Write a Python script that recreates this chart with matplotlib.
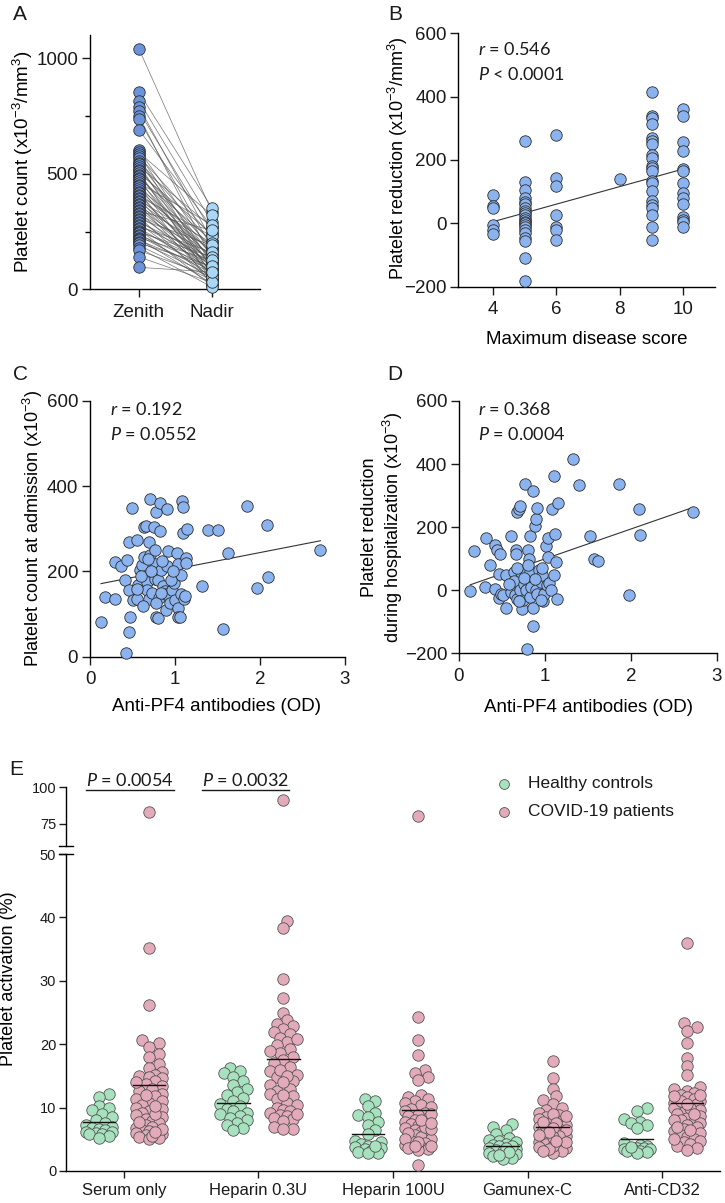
import matplotlib
matplotlib.use("Agg")
import matplotlib.pyplot as plt
import numpy as np
from matplotlib.lines import Line2D

plt.rcParams['font.family'] = ['Liberation Sans', 'DejaVu Sans']
plt.rcParams['mathtext.default'] = 'regular'
plt.rcParams['mathtext.fontset'] = 'custom'
plt.rcParams['mathtext.it'] = 'Lato:italic'
plt.rcParams['mathtext.rm'] = 'Lato'
plt.rcParams['text.color'] = '#1a1a1a'

# ---------------- data ----------------
# A: zenith / nadir platelet counts (paired)
zenith = [1040, 852, 816, 790, 771, 750, 735, 690, 601, 592, 585, 575, 566, 556, 548, 540,
          532, 525, 517, 510, 503, 496, 489, 482, 475, 468, 460, 452, 445, 438, 430, 423,
          416, 410, 403, 397, 390, 384, 378, 371, 365, 358, 352, 345, 338, 332, 325, 318,
          312, 305, 298, 291, 285, 278, 272, 266, 260, 254, 248, 242, 236, 230, 224, 218,
          212, 206, 200, 190, 180, 168, 140, 95]
nadir = [336, 353, 290, 210, 250, 130, 180, 270, 160, 320, 110, 230, 90, 200, 145, 60,
         270, 120, 180, 35, 240, 95, 150, 210, 70, 130, 280, 105, 55, 185, 140, 20,
         165, 90, 230, 115, 60, 200, 145, 80, 40, 175, 125, 100, 255, 65, 150, 110,
         30, 190, 85, 135, 50, 120, 160, 75, 15, 110, 140, 45, 95, 70, 125, 25,
         85, 60, 100, 40, 10, 55, 30, 75]

# B: disease score vs platelet reduction
b_score = [4] * 6 + [5] * 22 + [6] * 7 + [8] + [9] * 21 + [10] * 14
b_reduction = [90, 55, 50, -5, -20, -33,
               259, 129, 105, 80, 68, 60, 50, 40, 32, 25, 18, 10, 5, 0, -5, -12, -20, -30, -45, -57, -110, -183,
               278, 143, 117, 26, -12, -20, -52,
               140,
               416, 340, 333, 315, 268, 260, 250, 215, 207, 182, 175, 165, 135, 128, 102, 70, 57, 50, 25, -12, -52,
               362, 338, 257, 228, 172, 165, 127, 95, 80, 62, 20, 12, 5, -12]

# C: anti-PF4 OD vs platelet count at admission
c_od = [0.13, 0.18, 0.30, 0.30, 0.36, 0.41, 0.42, 0.46, 0.47, 0.46,
        0.46, 0.44, 0.49, 0.51, 0.55, 0.55, 0.57, 0.59, 0.61, 0.63,
        0.64, 0.66, 0.67, 0.67, 0.69, 0.70, 0.71, 0.71, 0.73, 0.75,
        0.76, 0.76, 0.77, 0.78, 0.78, 0.80, 0.80, 0.81, 0.82, 0.82,
        0.84, 0.86, 0.88, 0.89, 0.90, 0.91, 0.91, 0.92, 0.94, 0.97,
        0.99, 1.00, 1.01, 1.02, 1.03, 1.03, 1.04, 1.06, 1.07, 1.07,
        1.08, 1.10, 1.10, 1.11, 1.12, 1.13, 1.13, 1.14, 1.32, 1.39,
        1.51, 1.57, 1.62, 1.85, 1.97, 2.08, 2.10, 2.71, 0.60, 0.72,
        0.85, 0.95, 0.68, 0.62, 0.78, 0.98, 0.55, 0.83]
c_count = [82, 139, 135, 223, 212, 179, 8, 59, 93, 157,
           269, 227, 349, 133, 135, 274, 169, 204, 216, 235,
           304, 306, 176, 157, 135, 270, 370, 238, 149, 304,
           251, 182, 218, 94, 339, 90, 179, 137, 361, 294,
           204, 165, 155, 110, 147, 212, 346, 247, 125, 157,
           172, 133, 200, 243, 114, 218, 94, 93, 192, 147,
           365, 351, 290, 135, 143, 231, 220, 300, 166, 298,
           298, 64, 243, 353, 161, 310, 187, 251, 190, 200,
           225, 180, 230, 120, 125, 200, 160, 150]

# D: anti-PF4 OD vs platelet reduction during hospitalization
d_od = [0.13, 0.18, 0.30, 0.31, 0.36, 0.42, 0.44, 0.48, 0.42, 0.46,
        0.49, 0.47, 0.51, 0.55, 0.55, 0.60, 0.61, 0.64, 0.64, 0.65,
        0.66, 0.66, 0.67, 0.68, 0.70, 0.71, 0.71, 0.72, 0.73, 0.74,
        0.76, 0.77, 0.78, 0.79, 0.80, 0.81, 0.82, 0.82, 0.82, 0.84,
        0.86, 0.86, 0.86, 0.88, 0.90, 0.90, 0.91, 0.91, 0.93, 0.95,
        0.96, 0.98, 0.99, 1.01, 1.02, 1.03, 1.04, 1.05, 1.07, 1.08,
        1.10, 1.11, 1.12, 1.13, 1.14, 1.15, 1.33, 1.40, 1.52, 1.57,
        1.62, 1.86, 1.98, 2.09, 2.11, 2.72, 0.68, 0.75, 0.88, 0.95,
        0.58, 0.70, 0.80, 0.97]
d_reduction = [-3, 124, 11, 165, 79, 142, 128, 114, 5, -26,
               -11, 53, -16, 49, -55, 172, -5, 58, 29, -16,
               128, 114, 247, -28, 256, 266, 0, 58, -58, -32,
               21, 337, 0, -186, 126, 100, 58, -21, 172, 11,
               -114, -55, 314, 205, 0, 226, 261, -13, 63, 26,
               47, -34, -11, 139, 16, 105, 165, 23, 0, 258,
               47, 361, 179, 89, -28, 277, 416, 335, 172, 98,
               92, 337, -14, 256, 174, 247, 70, 40, 35, -30,
               20, -35, 80, 70]

# E: platelet activation (%)
conditions = ['Serum only', 'Heparin 0.3U', 'Heparin 100U', 'Gamunex-C', 'Anti-CD32']
hc_serum = [12.1, 11.6, 10.3, 10.0, 9.6, 9.0, 8.5, 8.0, 7.6, 7.3, 7.0, 6.8, 6.6, 6.4, 6.2, 6.1,
            6.0, 5.9, 5.8, 5.5, 5.2]
hc_hep03 = [16.3, 15.8, 15.4, 14.9, 14.2, 13.6, 13.0, 12.4, 12.0, 11.5, 11.0, 10.6, 10.2, 9.8,
            9.4, 9.2, 9.0, 8.7, 8.4, 8.0, 7.6, 7.2, 6.8, 6.5]
hc_hep100 = [11.4, 11.0, 10.3, 9.2, 8.8, 8.5, 7.8, 7.2, 6.5, 5.8, 4.8, 4.5, 4.2, 4.0, 3.8, 3.6,
             3.4, 3.2, 3.0, 2.9, 2.8, 3.9]
hc_gam = [7.4, 6.9, 6.4, 5.8, 5.2, 4.9, 4.7, 4.5, 4.3, 4.1, 3.9, 3.7, 3.5, 3.3, 3.1, 2.9, 2.7,
          2.5, 2.3, 2.1, 1.9, 4.0, 3.6, 3.0, 2.6]
hc_cd32 = [10.0, 9.4, 8.2, 7.8, 7.5, 7.2, 6.8, 4.4, 4.1, 3.9, 3.7, 3.6, 3.5, 3.4, 3.3, 3.2, 3.1,
           3.0, 2.9, 3.8]
cov_serum = [83.0, 35.2, 26.2, 20.6, 20.2, 19.6, 18.4, 18.0, 16.8, 16.2, 15.6, 15.2, 15.0, 14.8,
             14.6, 14.2, 13.8, 13.4, 13.0, 12.6, 12.2, 11.8, 11.4, 11.0, 10.8, 10.4, 10.0, 9.8,
             9.5, 9.2, 8.8, 8.5, 8.2, 7.9, 7.6, 7.3, 7.0, 6.8, 6.5, 6.3, 6.0, 5.8, 5.6, 5.4, 5.2,
             5.0, 6.6, 7.8, 9.0, 10.2, 12.0, 14.0, 5.5, 6.2]
cov_hep03 = [91.0, 39.4, 38.3, 30.3, 27.3, 25.0, 23.8, 23.2, 22.8, 22.4, 22.0, 21.6, 21.0, 20.3,
             19.8, 19.2, 18.6, 18.0, 17.5, 17.0, 16.4, 15.8, 15.2, 14.8, 14.2, 13.6, 13.0, 12.6,
             12.2, 11.8, 11.3, 10.8, 10.4, 10.0, 9.7, 9.4, 9.1, 8.8, 8.6, 8.4, 8.2, 7.9, 6.9, 6.7,
             6.6, 20.8, 16.0, 12.0, 9.0, 15.0, 19.0, 14.0]
cov_hep100 = [80.0, 24.3, 20.7, 18.3, 16.0, 15.4, 14.8, 14.3, 12.0, 11.7, 11.4, 11.0, 10.7, 10.4,
              10.1, 9.8, 9.5, 9.2, 8.9, 8.6, 8.3, 8.0, 7.7, 7.4, 7.1, 6.8, 6.5, 6.2, 5.9, 5.6,
              5.3, 5.0, 4.7, 4.4, 4.1, 3.8, 3.5, 3.3, 1.0, 9.0, 7.0, 6.0, 5.0, 8.0, 3.6, 4.5, 6.6,
              7.5, 3.9, 4.0]
cov_gam = [17.4, 14.7, 12.9, 11.8, 11.2, 10.6, 10.0, 9.6, 9.2, 8.8, 8.5, 8.2, 7.9, 7.6, 7.3, 7.0,
           6.7, 6.4, 6.1, 5.8, 5.5, 5.2, 4.9, 4.6, 4.3, 4.0, 3.7, 3.4, 3.1, 2.9, 8.0, 7.0, 6.0,
           5.0, 4.0, 9.0, 6.5, 5.5, 4.5, 3.5, 7.5, 8.6, 6.8, 5.3, 3.8, 4.8, 6.2, 7.8, 3.2, 5.7]
cov_cd32 = [35.9, 23.3, 22.7, 22.1, 20.2, 17.9, 16.6, 15.2, 13.3, 12.9, 12.6, 12.3, 12.0, 11.7,
            11.4, 11.1, 10.8, 10.5, 10.2, 9.9, 9.6, 9.3, 9.0, 8.7, 8.4, 8.1, 7.8, 7.5, 7.2, 6.9,
            6.6, 6.3, 6.0, 5.7, 5.4, 5.1, 4.8, 4.5, 4.2, 3.9, 3.6, 3.3, 11.0, 10.0, 9.0, 12.0,
            8.0, 7.0, 6.5, 10.6, 11.8, 5.0]
hc_groups = [hc_serum, hc_hep03, hc_hep100, hc_gam, hc_cd32]
cov_groups = [cov_serum, cov_hep03, cov_hep100, cov_gam, cov_cd32]
hc_means = [7.8, 10.8, 5.9, 3.9, 5.1]
cov_means = [13.6, 17.7, 9.7, 7.0, 10.7]
p_labels = ['0.0054', '0.0032']

# ---------------- style ----------------
W, H = 725, 1203
fig = plt.figure(figsize=(W / 100, H / 100), dpi=100)

BLUE = '#8AB3EF'
ZEN = '#6A93DC'
NAD = '#A9D7F7'
GREEN = '#A6E2BD'
PINK = '#E3AABA'
EDGE = '#2e2e2e'
MS = 68


def add_ax(box):
    l, t, r, b = box
    return fig.add_axes([l / W, 1 - b / H, (r - l) / W, (b - t) / H])


def style(ax, size=13.5, length=6):
    for s in ['top', 'right']:
        ax.spines[s].set_visible(False)
    for s in ['left', 'bottom']:
        ax.spines[s].set_linewidth(1.0)
    ax.tick_params(width=1.0, length=length, labelsize=size, colors='#1a1a1a')
    ax.tick_params(axis='y', pad=2.5)
    ax.tick_params(axis='x', pad=4.5)


def ylab(ax, box, txt, x_px, y_px, size=13):
    l, t, r, b = box
    ax.set_ylabel(txt, fontsize=size, va='center', ha='center')
    ax.yaxis.set_label_coords((x_px - l) / (r - l), (b - y_px) / (b - t))


def xlab(ax, box, txt, x_px, y_px, size=13.5):
    l, t, r, b = box
    ax.set_xlabel(txt, fontsize=size, va='center', ha='center')
    ax.xaxis.set_label_coords((x_px - l) / (r - l), (b - y_px) / (b - t))


def stats(x_px, y_px, r_txt, p_txt):
    fig.text(x_px / W, 1 - y_px / H, r'$\mathit{r}$ = ' + r_txt, fontsize=13,
             family='Lato', va='baseline', ha='left')
    fig.text(x_px / W, 1 - (y_px + 25) / H, r'$\mathit{P}$ ' + p_txt, fontsize=13,
             family='Lato', va='baseline', ha='left')


def letter(txt, x_px, y_px):
    fig.text(x_px / W, 1 - y_px / H, txt, fontsize=15, va='baseline', ha='left')


def fit_line(ax, x, y):
    x = np.asarray(x, float)
    y = np.asarray(y, float)
    k, c = np.polyfit(x, y, 1)
    xs = np.array([x.min(), x.max()])
    ax.plot(xs, k * xs + c, color='#333333', lw=0.8, zorder=2)


# ---------------- A ----------------
boxA = (90, 35, 260, 289.3)
axA = add_ax(boxA)
style(axA)
zen = np.array(zenith)
nad = np.array(nadir)
axA.plot(np.vstack([np.zeros(len(zen)), np.ones(len(nad))]), np.vstack([zen, nad]),
         color='#555555', lw=0.55, alpha=0.75, zorder=1)
axA.scatter(np.zeros(len(zen)), zen, s=MS, c=ZEN, edgecolors=EDGE, linewidths=0.6, zorder=3, clip_on=False)
axA.scatter(np.ones(len(nad)), nad, s=MS, c=NAD, edgecolors=EDGE, linewidths=0.6, zorder=3, clip_on=False)
axA.set_xlim(-0.67, 1.66)
axA.set_ylim(0, 1100)
axA.set_yticks([0, 500, 1000])
axA.set_yticks([250, 750], minor=True)
axA.tick_params(axis='y', which='minor', length=3.5, width=1.0)
axA.set_xticks([0, 1])
axA.set_xticklabels(['Zenith', 'Nadir'])
ylab(axA, boxA, r'Platelet count (x10$^{-3}$/mm$^{3}$)', 23, 162, size=13.5)
letter('A', 13, 20)

# ---------------- B ----------------
boxB = (458, 33.3, 715, 286.7)
axB = add_ax(boxB)
style(axB, length=5.5)
axB.scatter(b_score, b_reduction, s=MS, c=BLUE, edgecolors=EDGE, linewidths=0.6, zorder=3, clip_on=False)
fit_line(axB, b_score, b_reduction)
axB.set_xlim(2.9, 11.0)
axB.set_ylim(-200, 600)
axB.set_xticks([4, 6, 8, 10])
axB.set_yticks([-200, 0, 200, 400, 600])
ylab(axB, boxB, r'Platelet reduction (x10$^{-3}$/mm$^{3}$)', 398, 158)
xlab(axB, boxB, 'Maximum disease score', 587, 340)
stats(478, 55, '0.546', '< 0.0001')
letter('B', 388, 20)

# ---------------- C ----------------
boxC = (90, 401, 345, 656.7)
axC = add_ax(boxC)
style(axC)
axC.scatter(c_od, c_count, s=MS, c=BLUE, edgecolors=EDGE, linewidths=0.6, zorder=3, clip_on=False)
fit_line(axC, c_od, c_count)
axC.set_xlim(0, 3)
axC.set_ylim(0, 600)
axC.set_xticks([0, 1, 2, 3])
axC.set_yticks([0, 200, 400, 600])
ylab(axC, boxC, r'Platelet count at admission (x10$^{-3}$)', 33, 528)
xlab(axC, boxC, 'Anti-PF4 antibodies (OD)', 217, 707)
stats(110, 415, '0.192', '= 0.0552')
letter('C', 13, 380)

# ---------------- D ----------------
boxD = (459, 401, 717, 653.3)
axD = add_ax(boxD)
style(axD)
axD.scatter(d_od, d_reduction, s=MS, c=BLUE, edgecolors=EDGE, linewidths=0.6, zorder=3, clip_on=False)
fit_line(axD, d_od, d_reduction)
axD.set_xlim(0, 3)
axD.set_ylim(-200, 600)
axD.set_xticks([0, 1, 2, 3])
axD.set_yticks([-200, 0, 200, 400, 600])
ylab(axD, boxD, 'Platelet reduction\n' + r'during hospitalization (x10$^{-3}$)', 383, 527)
xlab(axD, boxD, 'Anti-PF4 antibodies (OD)', 589, 707)
stats(478, 415, '0.368', '= 0.0004')
letter('D', 387, 380)

# ---------------- E ----------------
boxEu = (66, 787, 720, 846)
boxEl = (66, 854, 720, 1171)
axU = add_ax(boxEu)
axL = add_ax(boxEl)
style(axL, size=12, length=5)
style(axU, size=12, length=5)
axL.tick_params(axis='y', labelsize=10.5, pad=2)
axU.tick_params(axis='y', labelsize=10.5, pad=2)
axU.spines['bottom'].set_visible(False)
axU.set_xticks([])
for ax in (axU, axL):
    ax.set_xlim(-0.43, 4.43)
axL.set_ylim(0, 50)
axU.set_ylim(59.8, 100)
axL.set_yticks([0, 10, 20, 30, 40, 50])
axU.set_yticks([75, 100])
axL.set_xticks(range(len(conditions)))
axL.set_xticklabels(conditions)
axL.tick_params(axis='x', pad=3.5)

# break marks on the y axis
axU.plot([-0.01, 0.01], [0, 0], transform=axU.transAxes, color='black', lw=1.0, clip_on=False)
axL.plot([-0.01, 0.01], [1, 1], transform=axL.transAxes, color='black', lw=1.0, clip_on=False)

ppu_x = (boxEl[2] - boxEl[0]) / 4.86
ppu_y = (boxEl[3] - boxEl[1]) / 50.0


def swarm(vals, diam=11.0, max_off=14.0):
    y = np.asarray(vals, float) * ppu_y
    order = np.argsort(y)
    px, py = [], []
    out = np.zeros(len(y))
    step = diam * 0.3
    cands = [0.0]
    k = 1
    while k * step <= max_off:
        cands += [k * step, -k * step]
        k += 1
    for i in order:
        best, best_d = 0.0, -1.0
        if px:
            ax_ = np.array(px)
            ay_ = np.array(py)
            for c in cands:
                dmin = np.min(np.hypot(ax_ - c, ay_ - y[i]))
                if dmin >= diam * 0.7:
                    best = c
                    break
                if dmin > best_d:
                    best_d, best = dmin, c
        out[i] = best
        px.append(best)
        py.append(y[i])
    return out / ppu_x


off = 0.186
half = 0.12
for i in range(len(conditions)):
    for vals, shift, col, m in ((hc_groups[i], -off, GREEN, hc_means[i]),
                                (cov_groups[i], off, PINK, cov_means[i])):
        v = np.array(vals, float)
        low = v[v <= 50]
        high = v[v > 50]
        xs = i + shift + swarm(low)
        axL.scatter(xs, low, s=MS, c=col, edgecolors='#555555', linewidths=0.6, zorder=3, clip_on=False)
        if len(high):
            axU.scatter(np.full(len(high), i + shift), high, s=MS, c=col,
                        edgecolors='#555555', linewidths=0.6, zorder=3, clip_on=False)
        axL.plot([i + shift - half, i + shift + half], [m, m], color='#111111', lw=1.0, zorder=4)

axL.set_ylabel('Platelet activation (%)', fontsize=13, va='center', ha='center')
axL.yaxis.set_label_coords((9 - 66) / 654, (1171 - 979) / 317)

# legend
h1 = axL.scatter([], [], s=50, c=GREEN, edgecolors='#555555', linewidths=0.6)
h2 = axL.scatter([], [], s=50, c=PINK, edgecolors='#555555', linewidths=0.6)
fig.legend([h1, h2], ['Healthy controls', 'COVID-19 patients'], loc='upper left',
           bbox_to_anchor=(495 / W, 1 - 776 / H), frameon=False, fontsize=12.5,
           handlelength=1.0, handletextpad=0.9, labelspacing=0.75, borderpad=0, borderaxespad=0)

# P values with underline
renderer = fig.canvas.get_renderer()
for j, (x_px, p) in enumerate(zip([86, 202], p_labels)):
    t = fig.text(x_px / W, 1 - 786 / H, r'$\mathit{P}$ = ' + p, fontsize=13, family='Lato',
                 va='baseline', ha='left')
    bb = t.get_window_extent(renderer)
    y_line = (H - 790) / H
    fig.add_artist(Line2D([bb.x0 / W, bb.x1 / W], [y_line, y_line], transform=fig.transFigure,
                          color='#1a1a1a', lw=1.0))

letter('E', 9, 775)

fig.savefig('out.png', dpi=100)
